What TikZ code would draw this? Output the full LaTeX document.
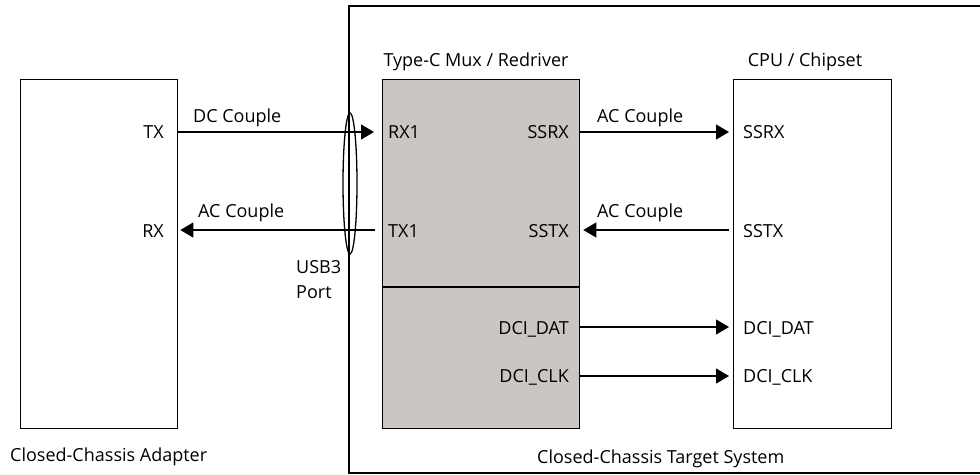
\documentclass[tikz,border=0pt]{standalone}
\usepackage{fontspec}
\setmainfont{Open Sans}
\usetikzlibrary{arrows.meta,positioning,shapes.geometric}
\definecolor{muxgray}{RGB}{201,198,195}
\tikzset{
  blk/.style={draw, line width=1.3pt, anchor=north west, inner sep=0pt},
  sig/.style={line width=1.3pt, -{Triangle[length=13pt,width=15pt]}},
  pin/.style={inner sep=0pt, font=\fontsize{18}{21}\selectfont},
}
\begin{document}
\begin{tikzpicture}[x=1pt,y=-1pt]
\useasboundingbox (0,0) rectangle (980,474);
\clip (0,0) rectangle (980,474);
% target system frame
\draw[line width=1.3pt] (349,6) rectangle (990,473);
% blocks
\node[blk, minimum width=157pt, minimum height=349pt] (adapter) at (20,79) {};
\node[blk, fill=muxgray, minimum width=197pt, minimum height=349pt] (mux) at (382,79) {};
\node[blk, minimum width=158pt, minimum height=349pt] (cpu) at (733,79) {};
\coordinate (split) at (0,287);
\draw[line width=1.3pt] (mux.west |- split) -- (mux.east |- split);
\node[pin, anchor=base] (muxlbl) at (476,66) {Type-C Mux / Redriver};
\node[pin, anchor=base] (cpulbl) at (805,66) {CPU / Chipset};
% pins
\node[pin, anchor=base east] (tx) at (164,138) {TX};
\node[pin, anchor=base east] (rx) at (164,237) {RX};
\node[pin, anchor=base west] (rx1) at (388,138) {RX1};
\node[pin, anchor=base west] (tx1) at (388,237) {TX1};
\node[pin, anchor=base east] (ssrxm) at (569,138) {SSRX};
\node[pin, anchor=base east] (sstxm) at (569,237) {SSTX};
\node[pin, anchor=base east] (datm) at (569,334) {DCI\_DAT};
\node[pin, anchor=base east] (clkm) at (569,382) {DCI\_CLK};
\node[pin, anchor=base west] (ssrxc) at (743,138) {SSRX};
\node[pin, anchor=base west] (sstxc) at (743,237) {SSTX};
\node[pin, anchor=base west] (datc) at (743,334) {DCI\_DAT};
\node[pin, anchor=base west] (clkc) at (743,382) {DCI\_CLK};
% links
\coordinate (r1) at (0,132);
\coordinate (r2) at (0,230);
\coordinate (r3) at (0,327);
\coordinate (r4) at (0,376);
\draw[sig] (adapter.east |- r1) -- ([xshift=-8pt]mux.west |- r1);
\draw[sig] ([xshift=-7pt]mux.west |- r2) -- ([xshift=2pt]adapter.east |- r2);
\draw[sig] (mux.east |- r1) -- ([xshift=-4pt]cpu.west |- r1);
\draw[sig] ([xshift=-4pt]cpu.west |- r2) -- ([xshift=3pt]mux.east |- r2);
\draw[sig] (mux.east |- r3) -- ([xshift=-4pt]cpu.west |- r3);
\draw[sig] (mux.east |- r4) -- ([xshift=-4pt]cpu.west |- r4);
\node[pin, anchor=base west] (dc) at (193,122) {DC Couple};
\node[pin, anchor=base west] (acl) at (198,217) {AC Couple};
\node[pin, anchor=base west] (acr1) at (597,122) {AC Couple};
\node[pin, anchor=base west] (acr2) at (597,217) {AC Couple};
% usb3 port
\node[draw, ellipse, line width=1.3pt, inner sep=0pt, minimum width=14pt, minimum height=141pt] (port) at (350,183.5) {};
\node[pin, anchor=base west] (usblbl) at (296,273) {USB3};
\node[pin, anchor=base west] (portlbl) at (296,298) {Port};
% captions
\node[pin, anchor=base west] (adlbl) at (10,461) {Closed-Chassis Adapter};
\node[pin, anchor=base west] (syslbl) at (537,463) {Closed-Chassis Target System};
\end{tikzpicture}
\end{document}
